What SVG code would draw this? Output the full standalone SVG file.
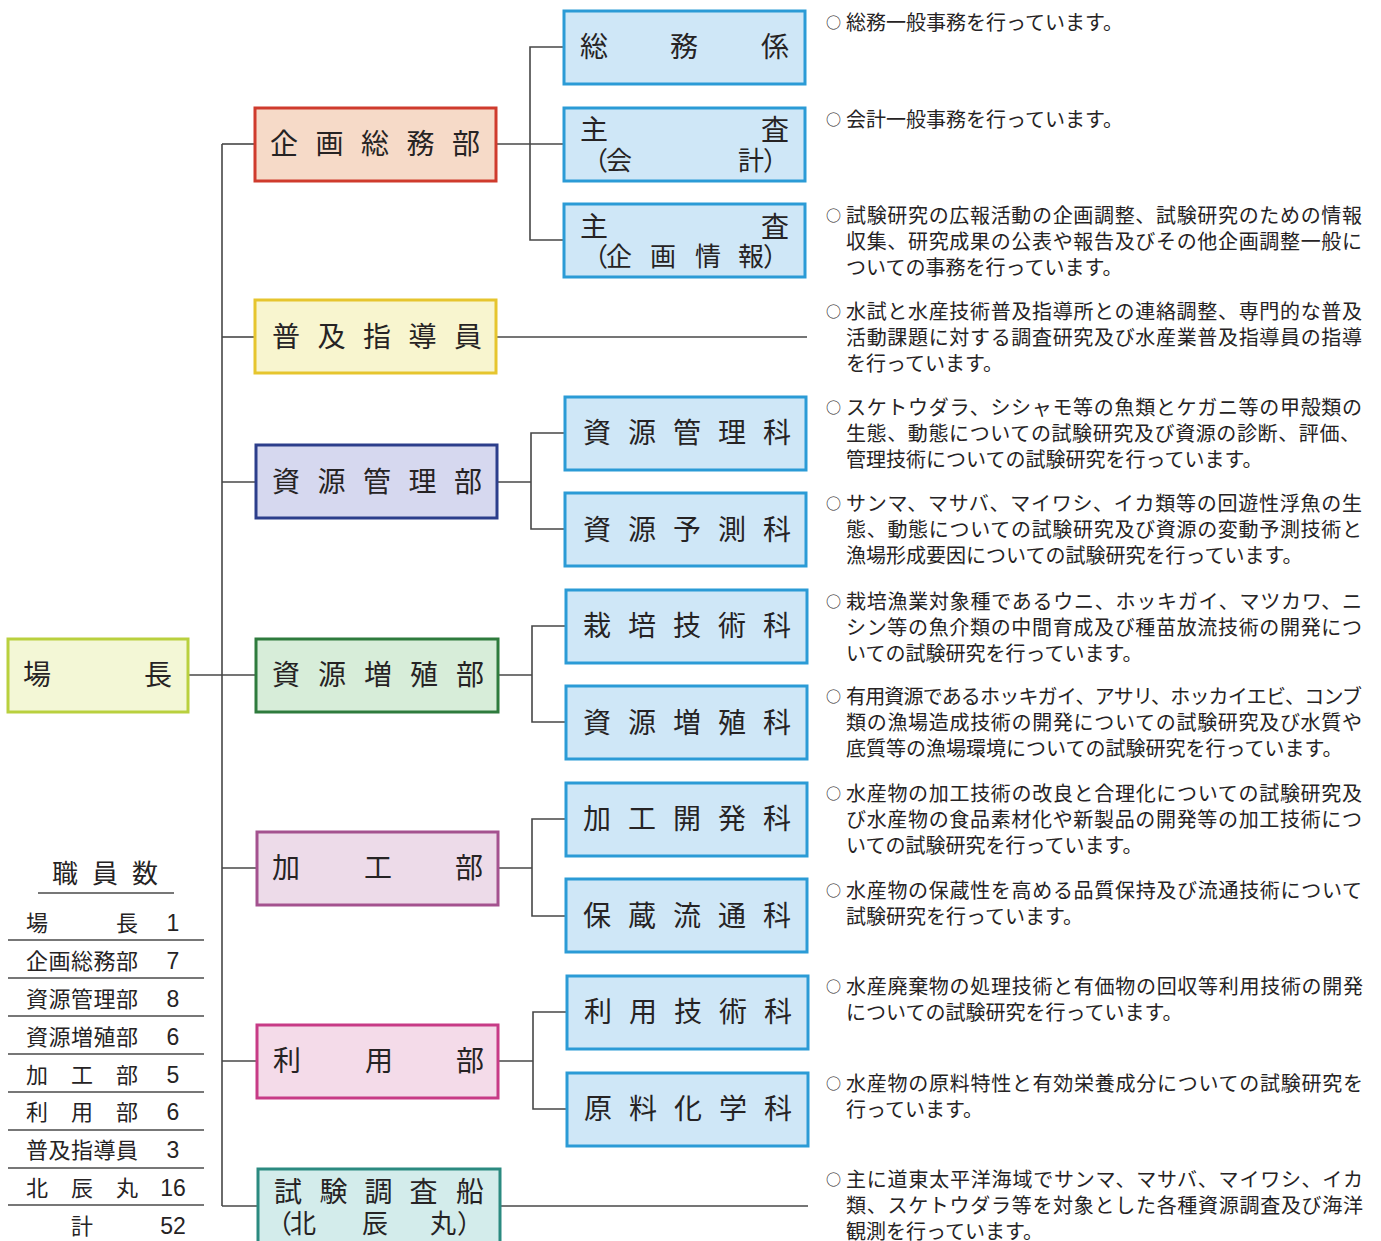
<svg xmlns="http://www.w3.org/2000/svg" width="1381" height="1241" viewBox="0 0 1381 1241">
<style>
text{font-family:"Liberation Sans","Noto Sans CJK JP",sans-serif;fill:#262324;}
.lbl{font-size:28px;}
.lbl2{font-size:26px;}
.desc{font-size:20px;}
.circ{font-size:15px;font-family:"Noto Sans CJK JP",sans-serif;}
.tbl{font-size:22px;}
.num{font-size:23px;text-anchor:middle;}
.ttl{font-size:26px;}
.box{stroke-width:3;}
.child{fill:#cfe7f7;stroke:#2b9bd6;stroke-width:3;}
.conn line,.conn polyline{stroke:#474747;stroke-width:1.6;fill:none;}
.rule{stroke:#4a4a4a;stroke-width:1.6;}
</style>
<rect width="1381" height="1241" fill="#ffffff"/>

<g id="connectors" class="conn">
  <line x1="189" y1="675" x2="222" y2="675"/>
  <line x1="222" y1="144" x2="222" y2="1206"/>
  <line x1="222" y1="144" x2="254" y2="144"/>
  <line x1="222" y1="337" x2="254" y2="337"/>
  <line x1="222" y1="482" x2="255" y2="482"/>
  <line x1="222" y1="675" x2="255" y2="675"/>
  <line x1="222" y1="868" x2="256" y2="868"/>
  <line x1="222" y1="1061" x2="256" y2="1061"/>
  <line x1="222" y1="1206" x2="257" y2="1206"/>
  <line x1="497" y1="144" x2="563" y2="144"/>
  <polyline points="563,47 530,47 530,240 563,240"/>
  <line x1="497" y1="337" x2="807" y2="337"/>
  <line x1="497" y1="482" x2="531" y2="482"/>
  <polyline points="564,433 531,433 531,529 564,529"/>
  <line x1="499" y1="675" x2="532" y2="675"/>
  <polyline points="565,626 532,626 532,722 565,722"/>
  <line x1="499" y1="868" x2="532" y2="868"/>
  <polyline points="565,819 532,819 532,916 565,916"/>
  <line x1="499" y1="1061" x2="533" y2="1061"/>
  <polyline points="566,1012 533,1012 533,1109 566,1109"/>
  <line x1="500" y1="1206" x2="808" y2="1206"/>
</g>

<g id="jochou">
  <rect class="box" x="8" y="639" width="180" height="73" fill="#f3f7d6" stroke="#b9d03e"/>
  <text class="lbl" x="23 144" y="685">場長</text>
</g>

<g id="kikaku-soumu-bu">
  <rect class="box" x="255" y="108" width="241" height="73" fill="#f6dac8" stroke="#cf3b2d"/>
  <text class="lbl" x="270 315.5 361 406.5 452" y="154">企画総務部</text>
</g>
<g id="soumu-kakari">
  <rect class="child" x="564" y="11" width="241" height="73"/>
  <text class="lbl" x="580 670 761" y="57">総務係</text>
</g>
<g id="shusa-kaikei">
  <rect class="child" x="564" y="108" width="241" height="73"/>
  <text class="lbl" x="580 761" y="140">主査</text>
  <text class="lbl2" x="582 606" y="170">（会</text>
  <text class="lbl2" x="738 763" y="170">計）</text>
</g>
<g id="shusa-kikaku-jouhou">
  <rect class="child" x="564" y="204" width="241" height="73"/>
  <text class="lbl" x="580 761" y="237">主査</text>
  <text class="lbl2" x="582 606 650 695 738 763" y="266">（企画情報）</text>
</g>

<g id="fukyu-shidouin">
  <rect class="box" x="255" y="300" width="241" height="73" fill="#f8f5cf" stroke="#e6c52e"/>
  <text class="lbl" x="272 317.5 363 408.5 454" y="347">普及指導員</text>
</g>

<g id="shigen-kanri-bu">
  <rect class="box" x="256" y="445" width="241" height="73" fill="#d6d8ef" stroke="#2c3e8b"/>
  <text class="lbl" x="272 317.5 363 408.5 454" y="492">資源管理部</text>
</g>
<g id="shigen-kanri-ka">
  <rect class="child" x="565" y="397" width="241" height="73"/>
  <text class="lbl" x="583 628 673 718 763" y="443">資源管理科</text>
</g>
<g id="shigen-yosoku-ka">
  <rect class="child" x="565" y="493" width="241" height="73"/>
  <text class="lbl" x="583 628 673 718 763" y="540">資源予測科</text>
</g>

<g id="shigen-zoushoku-bu">
  <rect class="box" x="256" y="639" width="242" height="73" fill="#d7edd9" stroke="#2e7b3d"/>
  <text class="lbl" x="272 318 364 410 456" y="685">資源増殖部</text>
</g>
<g id="saibai-gijutsu-ka">
  <rect class="child" x="566" y="590" width="241" height="73"/>
  <text class="lbl" x="583 628 673 718 763" y="636">栽培技術科</text>
</g>
<g id="shigen-zoushoku-ka">
  <rect class="child" x="566" y="686" width="241" height="73"/>
  <text class="lbl" x="583 628 673 718 763" y="733">資源増殖科</text>
</g>

<g id="kakou-bu">
  <rect class="box" x="257" y="832" width="241" height="73" fill="#eddbe9" stroke="#a4528f"/>
  <text class="lbl" x="272 364 455" y="878">加工部</text>
</g>
<g id="kakou-kaihatsu-ka">
  <rect class="child" x="566" y="783" width="241" height="73"/>
  <text class="lbl" x="583 628 673 718 763" y="829">加工開発科</text>
</g>
<g id="hozou-ryutsu-ka">
  <rect class="child" x="566" y="879" width="241" height="73"/>
  <text class="lbl" x="583 628 673 718 763" y="926">保蔵流通科</text>
</g>

<g id="riyou-bu">
  <rect class="box" x="257" y="1025" width="241" height="73" fill="#f4dbe9" stroke="#c73b86"/>
  <text class="lbl" x="273 365 456" y="1071">利用部</text>
</g>
<g id="riyou-gijutsu-ka">
  <rect class="child" x="567" y="976" width="241" height="73"/>
  <text class="lbl" x="584 629 674 719 764" y="1022">利用技術科</text>
</g>
<g id="genryou-kagaku-ka">
  <rect class="child" x="567" y="1073" width="241" height="73"/>
  <text class="lbl" x="584 629 674 719 764" y="1119">原料化学科</text>
</g>

<g id="shiken-chousasen">
  <rect class="box" x="258" y="1169" width="242" height="90" fill="#d3eceb" stroke="#2b8a80"/>
  <text class="lbl" x="274 319.5 364.5 409.5 456" y="1202">試験調査船</text>
  <text class="lbl2" x="266 290 362 430 457" y="1233">（北辰丸）</text>
</g>

<g id="descriptions">
  <text class="circ" x="826" y="28">○</text>
  <text class="desc" x="846" y="30">総務一般事務を行っています。</text>

  <text class="circ" x="826" y="125">○</text>
  <text class="desc" x="846" y="127">会計一般事務を行っています。</text>

  <text class="circ" x="826" y="221">○</text>
  <text class="desc" x="846" y="223" textLength="516">試験研究の広報活動の企画調整、試験研究のための情報</text>
  <text class="desc" x="846" y="249" textLength="516">収集、研究成果の公表や報告及びその他企画調整一般に</text>
  <text class="desc" x="846" y="275">ついての事務を行っています。</text>

  <text class="circ" x="826" y="317">○</text>
  <text class="desc" x="846" y="319" textLength="516">水試と水産技術普及指導所との連絡調整、専門的な普及</text>
  <text class="desc" x="846" y="345" textLength="516">活動課題に対する調査研究及び水産業普及指導員の指導</text>
  <text class="desc" x="846" y="371">を行っています。</text>

  <text class="circ" x="826" y="413">○</text>
  <text class="desc" x="846" y="415" textLength="516">スケトウダラ、シシャモ等の魚類とケガニ等の甲殻類の</text>
  <text class="desc" x="846" y="441" textLength="514">生態、動態についての試験研究及び資源の診断、評価、</text>
  <text class="desc" x="846" y="467">管理技術についての試験研究を行っています。</text>

  <text class="circ" x="826" y="509">○</text>
  <text class="desc" x="846" y="511" textLength="516">サンマ、マサバ、マイワシ、イカ類等の回遊性浮魚の生</text>
  <text class="desc" x="846" y="537" textLength="516">態、動態についての試験研究及び資源の変動予測技術と</text>
  <text class="desc" x="846" y="563">漁場形成要因についての試験研究を行っています。</text>

  <text class="circ" x="826" y="607">○</text>
  <text class="desc" x="846" y="609" textLength="516">栽培漁業対象種であるウニ、ホッキガイ、マツカワ、ニ</text>
  <text class="desc" x="846" y="635" textLength="516">シン等の魚介類の中間育成及び種苗放流技術の開発につ</text>
  <text class="desc" x="846" y="661">いての試験研究を行っています。</text>

  <text class="circ" x="826" y="702">○</text>
  <text class="desc" x="846" y="704" textLength="516">有用資源であるホッキガイ、アサリ、ホッカイエビ、コンブ</text>
  <text class="desc" x="846" y="730" textLength="516">類の漁場造成技術の開発についての試験研究及び水質や</text>
  <text class="desc" x="846" y="756">底質等の漁場環境についての試験研究を行っています。</text>

  <text class="circ" x="826" y="799">○</text>
  <text class="desc" x="846" y="801" textLength="516">水産物の加工技術の改良と合理化についての試験研究及</text>
  <text class="desc" x="846" y="827" textLength="516">び水産物の食品素材化や新製品の開発等の加工技術につ</text>
  <text class="desc" x="846" y="853">いての試験研究を行っています。</text>

  <text class="circ" x="826" y="896">○</text>
  <text class="desc" x="846" y="898" textLength="516">水産物の保蔵性を高める品質保持及び流通技術について</text>
  <text class="desc" x="846" y="924">試験研究を行っています。</text>

  <text class="circ" x="826" y="992">○</text>
  <text class="desc" x="846" y="994" textLength="517">水産廃棄物の処理技術と有価物の回収等利用技術の開発</text>
  <text class="desc" x="846" y="1020">についての試験研究を行っています。</text>

  <text class="circ" x="826" y="1089">○</text>
  <text class="desc" x="846" y="1091" textLength="517">水産物の原料特性と有効栄養成分についての試験研究を</text>
  <text class="desc" x="846" y="1117">行っています。</text>

  <text class="circ" x="826" y="1185">○</text>
  <text class="desc" x="846" y="1187" textLength="517">主に道東太平洋海域でサンマ、マサバ、マイワシ、イカ</text>
  <text class="desc" x="846" y="1213" textLength="517">類、スケトウダラ等を対象とした各種資源調査及び海洋</text>
  <text class="desc" x="846" y="1239">観測を行っています。</text>
</g>

<g id="staff-table">
  <text class="ttl" x="52 92 132" y="883">職員数</text>
  <line class="rule" x1="38" y1="893" x2="174" y2="893"/>
  <text class="tbl" x="26 116" y="931">場長</text><text class="num" x="173" y="931">1</text>
  <line class="rule" x1="8" y1="940" x2="204" y2="940"/>
  <text class="tbl" x="26 48.5 71 93.5 116" y="969">企画総務部</text><text class="num" x="173" y="969">7</text>
  <line class="rule" x1="8" y1="978" x2="204" y2="978"/>
  <text class="tbl" x="26 48.5 71 93.5 116" y="1007">資源管理部</text><text class="num" x="173" y="1007">8</text>
  <line class="rule" x1="8" y1="1016" x2="204" y2="1016"/>
  <text class="tbl" x="26 48.5 71 93.5 116" y="1045">資源増殖部</text><text class="num" x="173" y="1045">6</text>
  <line class="rule" x1="8" y1="1054" x2="204" y2="1054"/>
  <text class="tbl" x="26 71 116" y="1083">加工部</text><text class="num" x="173" y="1083">5</text>
  <line class="rule" x1="8" y1="1092" x2="204" y2="1092"/>
  <text class="tbl" x="26 71 116" y="1120">利用部</text><text class="num" x="173" y="1120">6</text>
  <line class="rule" x1="8" y1="1130" x2="204" y2="1130"/>
  <text class="tbl" x="26 48.5 71 93.5 116" y="1158">普及指導員</text><text class="num" x="173" y="1158">3</text>
  <line class="rule" x1="8" y1="1168" x2="204" y2="1168"/>
  <text class="tbl" x="26 71 116" y="1196">北辰丸</text><text class="num" x="173" y="1196">16</text>
  <line class="rule" x1="8" y1="1205" x2="204" y2="1205"/>
  <text class="tbl" x="71" y="1234">計</text><text class="num" x="173" y="1234">52</text>
</g>
</svg>
